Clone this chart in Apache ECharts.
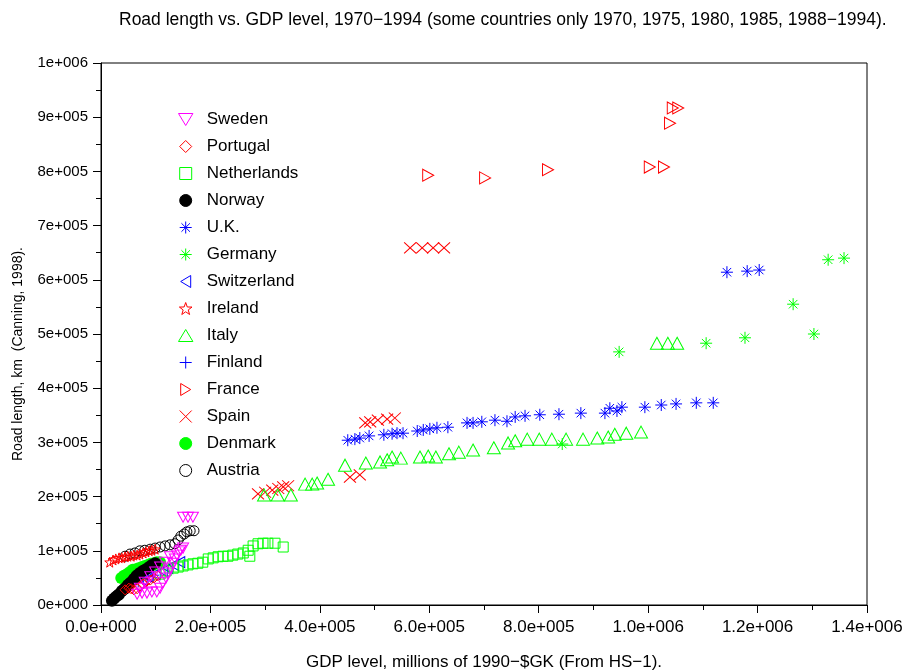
<!DOCTYPE html>
<html><head><meta charset="utf-8">
<script src="https://cdn.jsdelivr.net/npm/echarts@6/dist/echarts.min.js"></script>
<style>html,body{margin:0;padding:0;background:#fff}#c{width:904px;height:672px}</style>
</head><body><div id="c"></div>
<script>
const countries = ['Sweden','Portugal','Netherlands','Norway','U.K.','Germany','Switzerland','Ireland','Italy','Finland','France','Spain','Denmark','Austria'];
const xTickLabels = ['0.0e+000','2.0e+005','4.0e+005','6.0e+005','8.0e+005','1.0e+006','1.2e+006','1.4e+006'];
const yTickLabels = ['0e+000','1e+005','2e+005','3e+005','4e+005','5e+005','6e+005','7e+005','8e+005','9e+005','1e+006'];

const sweden = [[66000,20000],[75000,22000],[84000,22000],[93000,24000],[102000,24000],[108000,31000],[113000,41000],[119000,50000],[122000,59000],[128000,68000],[132000,77000],[135000,85000],[139000,92000],[143000,98000],[146000,101000],[150000,105000],[71000,31000],[80000,42000],[90000,52000],[99000,61000],[108000,70000],[117000,79000],[126000,89000],[150000,162000],[159000,162000],[168000,162000]];
const portugal = [[44000,28000],[51000,31000],[55000,30000],[60000,28000],[66000,30000],[71000,35000],[77000,39000],[82000,42000],[90000,46000],[97000,50000],[104000,54000]];
const netherlands = [[108000,57000],[119000,63000],[132000,68000],[141000,70000],[150000,72000],[159000,74000],[168000,76000],[177000,77000],[186000,79000],[196000,85000],[205000,87000],[214000,89000],[223000,90000],[232000,90000],[241000,92000],[250000,94000],[260000,96000],[269000,101000],[272000,90000],[278000,109000],[287000,113000],[296000,114000],[305000,114000],[318000,114000],[333000,107000]];
const norway = [[20000,8000],[24000,12000],[27000,15000],[31000,18000],[33000,20000],[38000,26000],[42000,29000],[44000,31000],[49000,37000],[53000,40000],[55000,42000],[60000,48000],[64000,52000],[66000,55000],[71000,59000],[77000,63000],[82000,66000],[88000,70000],[93000,74000],[99000,77000]];
const uk = [[451000,304000],[464000,306000],[473000,308000],[490000,312000],[517000,314000],[532000,316000],[541000,317000],[552000,317000],[578000,321000],[589000,323000],[601000,325000],[614000,327000],[634000,328000],[669000,336000],[680000,336000],[696000,338000],[720000,341000],[742000,339000],[757000,347000],[775000,349000],[802000,351000],[837000,352000],[877000,354000],[921000,354000],[930000,363000],[943000,358000],[952000,365000],[994000,365000],[1024000,369000],[1051000,371000],[1088000,373000],[1119000,373000],[1144000,614000],[1181000,616000],[1203000,618000]];
const germany = [[843000,297000],[947000,467000],[1106000,483000],[1177000,493000],[1265000,555000],[1303000,500000],[1329000,637000],[1358000,640000]];
const switzerland = [[75000,46000],[86000,52000],[99000,57000],[112000,63000],[122000,68000],[133000,74000],[144000,79000]];
const ireland = [[16000,79000],[22000,83000],[27000,85000],[33000,87000],[38000,87000],[44000,89000],[49000,90000],[55000,90000],[60000,92000],[66000,92000],[71000,94000],[77000,96000],[82000,98000],[88000,100000],[93000,101000],[99000,103000]];
const italy = [[298000,203000],[323000,203000],[347000,203000],[373000,223000],[386000,223000],[395000,225000],[415000,232000],[446000,258000],[484000,262000],[510000,264000],[523000,268000],[532000,273000],[548000,271000],[583000,273000],[598000,275000],[612000,273000],[636000,279000],[654000,282000],[680000,286000],[718000,290000],[744000,299000],[757000,303000],[779000,306000],[801000,306000],[824000,306000],[850000,306000],[881000,306000],[907000,308000],[927000,310000],[939000,315000],[960000,317000],[987000,319000],[1016000,483000],[1036000,483000],[1053000,483000]];
const finland = [[49000,37000],[58000,41000],[68000,44000],[77000,48000],[86000,52000],[95000,55000]];
const france = [[598000,793000],[702000,788000],[817000,803000],[1003000,808000],[1029000,808000],[1040000,889000],[1045000,917000],[1055000,917000]];
const spain = [[287000,205000],[300000,208000],[313000,212000],[324000,215000],[333000,218000],[342000,220000],[455000,236000],[473000,240000],[483000,336000],[492000,338000],[506000,341000],[523000,343000],[537000,345000],[565000,659000],[587000,659000],[607000,659000],[627000,659000]];
const denmark = [[37000,50000],[42000,54000],[48000,57000],[53000,61000],[58000,65000],[64000,66000],[69000,68000],[75000,70000],[80000,72000],[86000,74000],[91000,76000],[97000,77000],[102000,79000],[108000,79000]];
const austria = [[44000,90000],[53000,94000],[62000,96000],[71000,100000],[80000,101000],[90000,103000],[99000,105000],[108000,107000],[117000,109000],[126000,111000],[135000,113000],[141000,120000],[146000,127000],[152000,131000],[157000,135000],[163000,137000],[170000,137000]];

const dataByCountry = {'Sweden':sweden,'Portugal':portugal,'Netherlands':netherlands,'Norway':norway,'U.K.':uk,'Germany':germany,'Switzerland':switzerland,'Ireland':ireland,'Italy':italy,'Finland':finland,'France':france,'Spain':spain,'Denmark':denmark,'Austria':austria};

const SYM = {
  down: 'path://M0,0L12,0L6,10Z',
  up: 'path://M6,0L12,10L0,10Z',
  left: 'path://M0,6L10,0L10,12Z',
  right: 'path://M0,0L10,6L0,12Z',
  diamond: 'path://M5,0L10,5L5,10L0,5Z',
  square: 'path://M0,0L10,0L10,10L0,10Z',
  ring: 'path://M0,5A5,5 0 1 1 10,5A5,5 0 1 1 0,5Z',
  star: 'path://M5,0L6.18,3.38L9.76,3.45L6.9,5.62L7.94,9.05L5,7L2.06,9.05L3.1,5.62L0.24,3.45L3.82,3.38Z',
  cross: 'path://M0,0L10,10M0,10L10,0',
  plus: 'path://M5,0L5,10M0,5L10,5',
  asterisk: 'path://M0,5L10,5M5,0L5,10M1.46,1.46L8.54,8.54M1.46,8.54L8.54,1.46'
};
const style = {
  'Sweden':      {sym:SYM.down, size:[11,10], color:'#ff00ff', fill:false},
  'Portugal':    {sym:SYM.diamond, size:[10,10], color:'#ff0000', fill:false},
  'Netherlands': {sym:SYM.square, size:[10,10], color:'#00ff00', fill:false},
  'Norway':      {sym:'circle', size:12, color:'#000000', fill:true},
  'U.K.':        {sym:SYM.asterisk, size:[12,12], color:'#0000ff', fill:false},
  'Germany':     {sym:SYM.asterisk, size:[12,12], color:'#00ff00', fill:false},
  'Switzerland': {sym:SYM.left, size:[10,11], color:'#0000ff', fill:false},
  'Ireland':     {sym:SYM.star, size:[10,10], color:'#ff0000', fill:false},
  'Italy':       {sym:SYM.up, size:[13,12], color:'#00ff00', fill:false},
  'Finland':     {sym:SYM.plus, size:[12,12], color:'#0000ff', fill:false},
  'France':      {sym:SYM.right, size:[11,12], color:'#ff0000', fill:false},
  'Spain':       {sym:SYM.cross, size:[12,11], color:'#ff0000', fill:false},
  'Denmark':     {sym:'circle', size:12, color:'#00ff00', fill:true},
  'Austria':     {sym:SYM.ring, size:[10,10], color:'#000000', fill:false}
};

const FONT = 'Liberation Sans, Arial, sans-serif';
const series = countries.slice().reverse().map(name => {
  const s = style[name];
  return {
    type:'scatter', name:name, data:dataByCountry[name],
    symbol:s.sym, symbolSize:s.size,
    itemStyle: s.fill ? {color:s.color, borderColor:s.color, borderWidth:0, opacity:1}
                      : {color:'transparent', borderColor:s.color, borderWidth:1, opacity:1},
    emphasis:{disabled:true}, silent:true
  };
});

const chart = echarts.init(document.getElementById('c'), null, {renderer:'canvas'});
chart.setOption({
  animation:false,
  backgroundColor:'#ffffff',
  title:{text:'Road length vs. GDP level, 1970\u22121994 (some countries only 1970, 1975, 1980, 1985, 1988\u22121994).',
    left:114, top:6, textStyle:{fontSize:17.5, fontWeight:'normal', color:'#000', fontFamily:FONT}},
  grid:{left:101, right:37, top:63, bottom:67, containLabel:false, outerBoundsMode:'none', show:true, borderColor:'#000', borderWidth:1},
  legend:{orient:'vertical', left:173, top:106, itemWidth:32, itemHeight:12, itemGap:10, data:countries, selectedMode:false,
    symbolKeepAspect:true, textStyle:{fontSize:17, color:'#000', fontFamily:FONT}, itemStyle:{borderWidth:1}},
  xAxis:{type:'value', min:0, max:1400000, interval:200000,
    axisLine:{show:true, onZero:false, lineStyle:{color:'#000', width:1}},
    axisTick:{show:true, inside:false, length:8, lineStyle:{color:'#000'}},
    minorTick:{show:true, splitNumber:2, length:5, lineStyle:{color:'#000'}},
    splitLine:{show:false}, minorSplitLine:{show:false},
    axisLabel:{color:'#000', fontSize:17, margin:14, fontFamily:FONT, showMinLabel:true, showMaxLabel:true,
      formatter:v => xTickLabels[Math.round(v/200000)]},
    name:'GDP level, millions of 1990\u2212$GK (From HS\u22121).', nameLocation:'middle', nameGap:49,
    nameTextStyle:{fontSize:17, color:'#000', fontFamily:FONT}},
  yAxis:{type:'value', min:0, max:1000000, interval:100000,
    axisLine:{show:true, onZero:false, lineStyle:{color:'#000', width:1}},
    axisTick:{show:true, inside:false, length:8, lineStyle:{color:'#000'}},
    minorTick:{show:true, splitNumber:2, length:5, lineStyle:{color:'#000'}},
    splitLine:{show:false}, minorSplitLine:{show:false},
    axisLabel:{color:'#000', fontSize:15, margin:13, fontFamily:FONT, showMinLabel:true, showMaxLabel:true,
      formatter:v => yTickLabels[Math.round(v/100000)]},
    name:'Road length, km  (Canning, 1998).', nameLocation:'middle', nameGap:76, nameRotate:90,
    nameTextStyle:{fontSize:14, color:'#000', fontFamily:FONT, padding:[0,40,0,0]}},
  series:series
});
</script></body></html>
